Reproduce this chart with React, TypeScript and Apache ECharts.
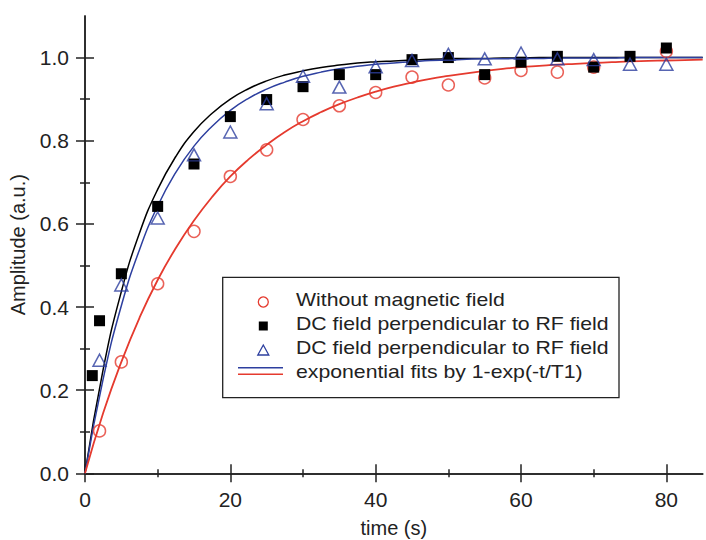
import React, { useEffect, useRef } from "react";
import * as echarts from "echarts";

// ---- data ----
const tWithout = [2, 5, 10, 15, 20, 25, 30, 35, 40, 45, 50, 55, 60, 65, 70, 80];
const ampWithout = [0.102, 0.268, 0.456, 0.582, 0.714, 0.778, 0.851, 0.884, 0.916, 0.953, 0.934, 0.951, 0.969, 0.965, 0.977, 1.015];

const tSquare = [1, 2, 5, 10, 15, 20, 25, 30, 35, 40, 45, 50, 55, 60, 65, 70, 75, 80];
const ampSquare = [0.235, 0.367, 0.48, 0.642, 0.744, 0.858, 0.899, 0.93, 0.959, 0.959, 0.995, 1.0, 0.959, 0.989, 1.003, 0.977, 1.003, 1.023];

const tTriangle = [2, 5, 10, 15, 20, 25, 30, 35, 40, 45, 50, 55, 60, 65, 70, 75, 80];
const ampTriangle = [0.272, 0.453, 0.614, 0.766, 0.821, 0.889, 0.955, 0.929, 0.978, 0.993, 1.008, 0.997, 1.011, 0.997, 0.995, 0.984, 0.984];

// fit curves, every 2.5 s from 0 to 85 s
const tFit = [
  0, 2.5, 5, 7.5, 10, 12.5, 15, 17.5, 20, 22.5, 25, 27.5, 30, 32.5, 35, 37.5, 40, 42.5,
  45, 47.5, 50, 52.5, 55, 57.5, 60, 62.5, 65, 67.5, 70, 72.5, 75, 77.5, 80, 82.5, 85,
];
const fitRed = [
  0, 0.145, 0.268, 0.374, 0.465, 0.542, 0.608, 0.665, 0.714, 0.755, 0.79, 0.821, 0.847, 0.869, 0.888, 0.904, 0.918, 0.93,
  0.94, 0.949, 0.956, 0.962, 0.968, 0.973, 0.977, 0.98, 0.983, 0.985, 0.987, 0.989, 0.991, 0.992, 0.993, 0.994, 0.995,
];
const fitBlue = [
  0, 0.227, 0.403, 0.538, 0.643, 0.724, 0.787, 0.835, 0.873, 0.902, 0.924, 0.941, 0.955, 0.965, 0.973, 0.979, 0.984, 0.987,
  0.99, 0.993, 0.994, 0.996, 0.997, 0.997, 0.998, 0.998, 0.999, 0.999, 0.999, 0.999, 1.0, 1.0, 1.0, 1.0, 1.0,
];
const fitBlack = [
  0, 0.25, 0.437, 0.578, 0.683, 0.762, 0.822, 0.866, 0.9, 0.925, 0.944, 0.958, 0.968, 0.976, 0.982, 0.987, 0.99, 0.992,
  0.994, 0.996, 0.997, 0.998, 0.998, 0.999, 0.999, 1.0, 1.0, 1.0, 1.0, 1.0, 1.0, 1.0, 1.0, 1.0, 1.0,
];

const xMajor = [0, 20, 40, 60, 80];
const xMinor = [10, 30, 50, 70];
const yMajor = [0, 0.2, 0.4, 0.6, 0.8, 1.0];
const yMinor = [0.1, 0.3, 0.5, 0.7, 0.9];

const legendLabels = [
  "Without magnetic field",
  "DC field perpendicular to RF field",
  "DC field perpendicular to RF field",
  "exponential fits by 1-exp(-t/T1)",
];

const RED = "#e53a2e";
const BLUE = "#2d3f9f";
const BLACK = "#000000";
const AXIS = "#222222";
const FONT = "'Liberation Sans', Arial, Helvetica, sans-serif";

const zip = (xs: number[], ys: number[]) => xs.map((x, i) => [x, ys[i]]);

export default function App() {
  const ref = useRef<HTMLDivElement>(null);

  useEffect(() => {
    if (!ref.current) return;
    const chart = echarts.init(ref.current, null, { renderer: "svg" });

    const axisLine = { show: true, lineStyle: { color: AXIS, width: 1.5 } };
    const tickStyle = { color: AXIS, width: 1.5 };

    const xBase = {
      type: "value",
      min: 0,
      max: 85,
      splitLine: { show: false },
    };
    const yBase = {
      type: "value",
      min: 0,
      max: 1.1,
      splitLine: { show: false },
    };

    const fitLine = (name: string, data: number[], color: string, width: number) => ({
      name,
      type: "line",
      data: zip(tFit, data),
      smooth: 0.5,
      symbol: "none",
      lineStyle: { color, width },
      z: 2,
    });

    const option: any = {
      animation: false,
      backgroundColor: "#ffffff",
      grid: {
        left: 85,
        right: 3.3,
        top: 16,
        bottom: 66.7,
        containLabel: false,
        outerBoundsMode: "none",
      },
      xAxis: [
        {
          ...xBase,
          position: "bottom",
          axisLine,
          axisTick: { show: true, customValues: xMajor, length: 9, inside: false, lineStyle: tickStyle },
          axisLabel: { customValues: xMajor, fontSize: 21, color: AXIS, margin: 16, fontFamily: FONT },
          name: "time (s)",
          nameLocation: "middle",
          nameGap: 45,
          nameTextStyle: { fontSize: 20, color: AXIS, fontFamily: FONT },
        },
        {
          ...xBase,
          position: "bottom",
          axisLine: { show: false },
          axisTick: { show: true, customValues: xMinor, length: 4, lineStyle: tickStyle },
          axisLabel: { show: false },
        },
        {
          ...xBase,
          position: "top",
          axisLine,
          axisTick: { show: true, customValues: xMajor, length: 9, lineStyle: tickStyle },
          axisLabel: { show: false },
        },
        {
          ...xBase,
          position: "top",
          axisLine: { show: false },
          axisTick: { show: true, customValues: xMinor, length: 4, lineStyle: tickStyle },
          axisLabel: { show: false },
        },
      ],
      yAxis: [
        {
          ...yBase,
          position: "left",
          axisLine,
          axisTick: { show: true, customValues: yMajor, length: 9, lineStyle: tickStyle },
          axisLabel: {
            customValues: yMajor,
            fontSize: 21,
            color: AXIS,
            margin: 16,
            fontFamily: FONT,
            formatter: (v: number) => v.toFixed(1),
          },
          name: "Amplitude (a.u.)",
          nameLocation: "middle",
          nameGap: 57,
          nameRotate: 90,
          nameTextStyle: { fontSize: 20, color: AXIS, fontFamily: FONT },
        },
        {
          ...yBase,
          position: "left",
          axisLine: { show: false },
          axisTick: { show: true, customValues: yMinor, length: 5, lineStyle: tickStyle },
          axisLabel: { show: false },
        },
        {
          ...yBase,
          position: "right",
          axisLine,
          axisTick: { show: true, customValues: yMajor, length: 9, lineStyle: tickStyle },
          axisLabel: { show: false },
        },
        {
          ...yBase,
          position: "right",
          axisLine: { show: false },
          axisTick: { show: true, customValues: yMinor, length: 5, lineStyle: tickStyle },
          axisLabel: { show: false },
        },
      ],
      series: [
        fitLine("fit black", fitBlack, BLACK, 1.5),
        fitLine("fit blue", fitBlue, BLUE, 1.5),
        fitLine("fit red", fitRed, RED, 1.8),
        {
          name: legendLabels[0],
          type: "scatter",
          data: zip(tWithout, ampWithout),
          symbol: "circle",
          symbolSize: 12,
          itemStyle: { color: "rgba(0,0,0,0)", borderColor: RED, borderWidth: 1.5 },
          z: 3,
        },
        {
          name: legendLabels[1],
          type: "scatter",
          data: zip(tSquare, ampSquare),
          symbol: "rect",
          symbolSize: 11,
          itemStyle: { color: BLACK, opacity: 1 },
          z: 4,
        },
        {
          name: legendLabels[2] + " ",
          type: "scatter",
          data: zip(tTriangle, ampTriangle),
          symbol: "triangle",
          symbolSize: [13, 12],
          itemStyle: { color: "rgba(0,0,0,0)", borderColor: BLUE, borderWidth: 1.5 },
          z: 5,
        },
      ],
      graphic: [
        {
          type: "rect",
          shape: { x: 222.7, y: 277.3, width: 396.3, height: 120.4 },
          style: { fill: "#ffffff", stroke: AXIS, lineWidth: 1.3 },
          z: 10,
        },
        {
          type: "circle",
          shape: { cx: 263.3, cy: 302, r: 5 },
          style: { fill: "none", stroke: RED, lineWidth: 1.3 },
          z: 11,
        },
        {
          type: "rect",
          shape: { x: 258.8, y: 321.5, width: 9, height: 9 },
          style: { fill: BLACK },
          z: 11,
        },
        {
          type: "polygon",
          shape: { points: [[263.3, 345], [257.8, 355], [268.8, 355]] },
          style: { fill: "none", stroke: BLUE, lineWidth: 1.3 },
          z: 11,
        },
        {
          type: "line",
          shape: { x1: 238, y1: 367.7, x2: 283, y2: 367.7 },
          style: { stroke: BLUE, lineWidth: 1.5 },
          z: 11,
        },
        {
          type: "line",
          shape: { x1: 238, y1: 374.3, x2: 283, y2: 374.3 },
          style: { stroke: RED, lineWidth: 1.5 },
          z: 11,
        },
        ...legendLabels.map((txt, i) => ({
          type: "text",
          x: 296,
          y: [299.5, 323.7, 347.8, 371.5][i],
          scaleX: 1.18,
          style: {
            text: txt,
            fontSize: 18,
            fontFamily: FONT,
            fill: AXIS,
            verticalAlign: "middle",
            align: "left",
          },
          z: 11,
        })),
      ],
    };

    chart.setOption(option);
    return () => chart.dispose();
  }, []);

  return (
    <div
      ref={ref}
      style={{ position: "fixed", left: 0, top: 0, width: 706, height: 540, background: "#fff" }}
    />
  );
}
